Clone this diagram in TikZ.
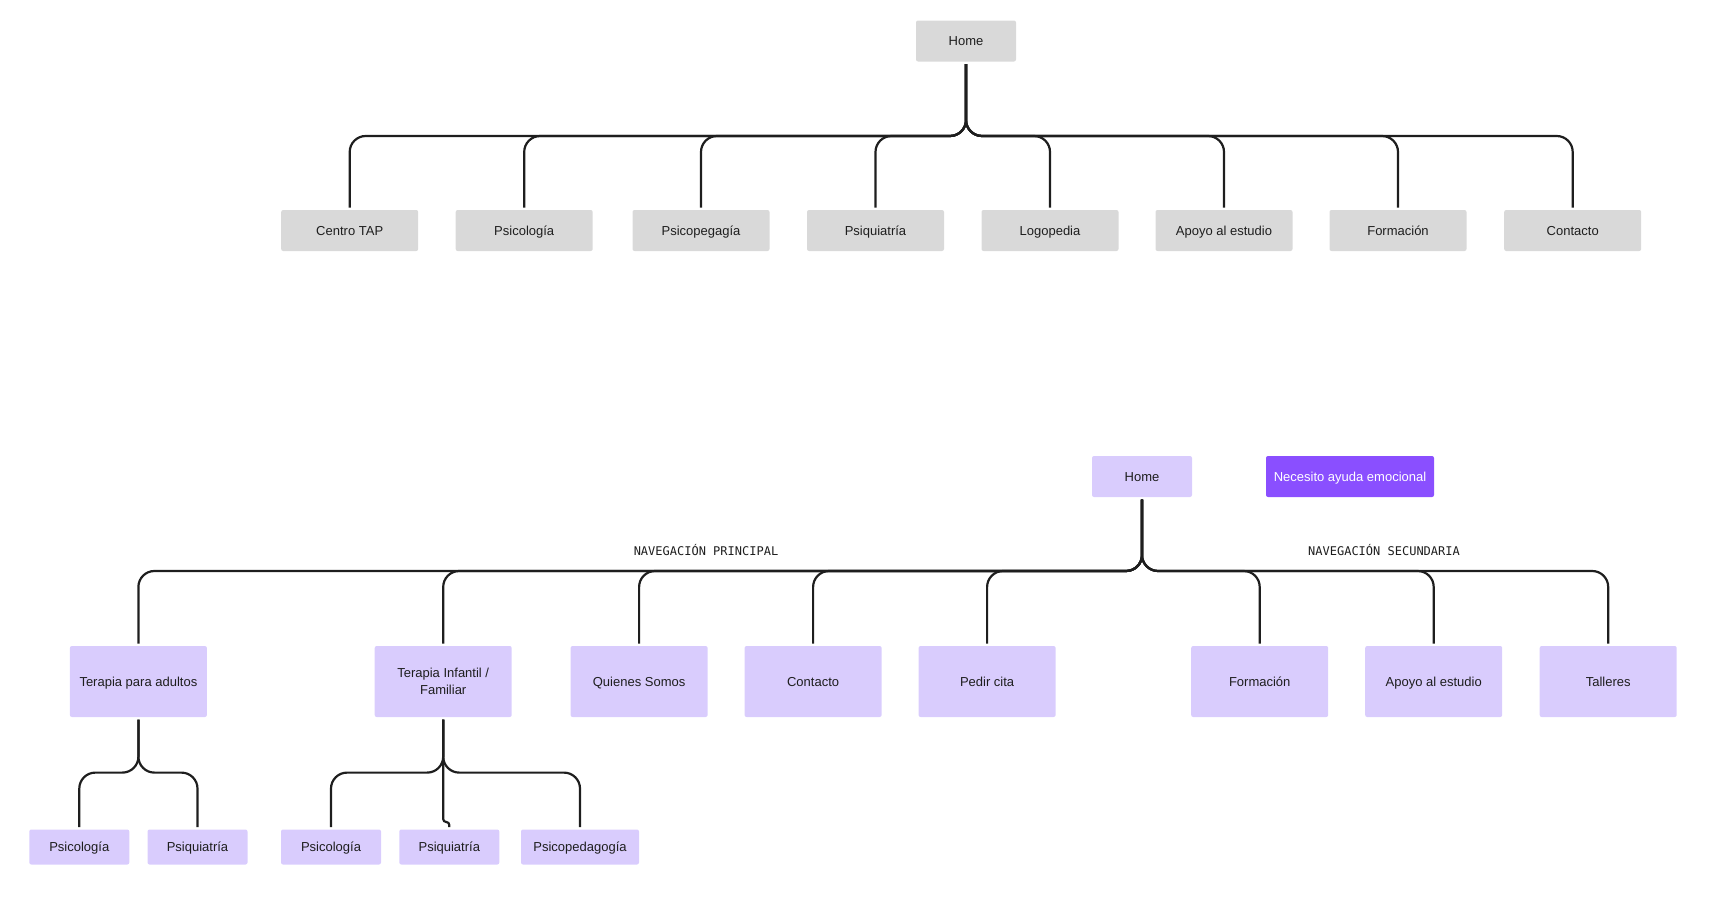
\documentclass[tikz,border=0pt]{standalone}
\usepackage{fontspec}
\setmainfont{Liberation Sans}
\newfontfamily\monof{DejaVu Sans Mono}
\definecolor{gry}{HTML}{D9D9D9}
\definecolor{lav}{HTML}{D9CCFD}
\definecolor{pur}{HTML}{8A4FFF}
\definecolor{txt}{HTML}{1E1E1E}
\definecolor{ln}{HTML}{1E1E1E}
\tikzset{
  base/.style={rounded corners=2pt, inner sep=0pt, align=center, text=txt,
    font=\fontsize{13}{17}\selectfont, outer sep=2.5pt},
  oneline/.style={text height=9.4pt, text depth=0pt},
  gbox/.style={base, oneline, fill=gry, minimum width=137pt, minimum height=41pt},
  lboxtwo/.style={base, fill=lav, minimum width=137pt, minimum height=71pt},
  lbox/.style={lboxtwo, oneline},
  lhome/.style={base, oneline, fill=lav, minimum width=100pt, minimum height=41pt},
  pbox/.style={base, oneline, fill=pur, text=white, minimum width=168pt, minimum height=41pt},
  sbox/.style={base, oneline, fill=lav, minimum width=100pt, minimum height=35pt},
  lbl/.style={font=\monof\fontsize{12}{14}\selectfont, text=txt, inner sep=0pt},
  conn/.style={draw=ln, line width=2.2pt, rounded corners=16pt},
  jogconn/.style={draw=ln, line width=2.2pt, rounded corners=3pt},
}
\begin{document}
\begin{tikzpicture}[x=1pt,y=-1pt]
\useasboundingbox (0,0) rectangle (1716,902);
% ---------- top tree ----------
\node[gbox, minimum width=100pt, minimum height=41pt] (home1) at (966,41) {Home};
\coordinate (tbus) at (0,136);
\node[gbox] (c1) at (349.7,230.5) {Centro TAP};
\node[gbox] (c2) at (524.2,230.5) {Psicología};
\node[gbox] (c3) at (701,230.5) {Psicopegagía};
\node[gbox] (c4) at (875.5,230.5) {Psiquiatría};
\node[gbox] (c5) at (1050,230.5) {Logopedia};
\node[gbox] (c6) at (1224,230.5) {Apoyo al estudio};
\node[gbox] (c7) at (1398,230.5) {Formación};
\node[gbox] (c8) at (1572.7,230.5) {Contacto};
\foreach \c in {c1,c2,c3,c4,c5,c6,c7,c8}{
  \draw[conn] (home1.south) -- (home1.south |- tbus) -- (\c.north |- tbus) -- (\c.north);
}
% ---------- bottom tree ----------
\node[lhome] (home2) at (1142,476.5) {Home};
\node[pbox] (help) at (1350,476.5) {Necesito ayuda emocional};
\node[lbl] (np) at (706,550.5) {NAVEGACIÓN PRINCIPAL};
\node[lbl] (ns) at (1384,550.5) {NAVEGACIÓN SECUNDARIA};
\coordinate (bbus) at (0,571);
\node[lbox] (b1) at (138.4,681.5) {Terapia para adultos};
\node[lboxtwo] (b2) at (443.2,681.5) {Terapia Infantil /\\Familiar};
\node[lbox] (b3) at (639.1,681.5) {Quienes Somos};
\node[lbox] (b4) at (813.1,681.5) {Contacto};
\node[lbox] (b5) at (987.1,681.5) {Pedir cita};
\node[lbox] (b6) at (1259.7,681.5) {Formación};
\node[lbox] (b7) at (1433.7,681.5) {Apoyo al estudio};
\node[lbox] (b8) at (1608.2,681.5) {Talleres};
\foreach \c in {b1,b2,b3,b4,b5,b6,b7,b8}{
  \draw[conn] (home2.south) -- (home2.south |- bbus) -- (\c.north |- bbus) -- (\c.north);
}
% ---------- grandchildren ----------
\coordinate (sbus) at (0,772.6);
\coordinate (jog) at (0,822);
\node[sbox] (g1) at (79.3,847) {Psicología};
\node[sbox] (g2) at (197.5,847) {Psiquiatría};
\node[sbox] (g3) at (331,847) {Psicología};
\node[sbox] (g4) at (449.3,847) {Psiquiatría};
\node[sbox, minimum width=118pt] (g5) at (580,847) {Psicopedagogía};
\foreach \c in {g1,g2}{
  \draw[conn] (b1.south) -- (b1.south |- sbus) -- (\c.north |- sbus) -- (\c.north);
}
\foreach \c in {g3,g5}{
  \draw[conn] (b2.south) -- (b2.south |- sbus) -- (\c.north |- sbus) -- (\c.north);
}
\draw[jogconn] (b2.south) -- (b2.south |- jog) -- (g4.north |- jog) -- (g4.north);
\end{tikzpicture}
\end{document}
